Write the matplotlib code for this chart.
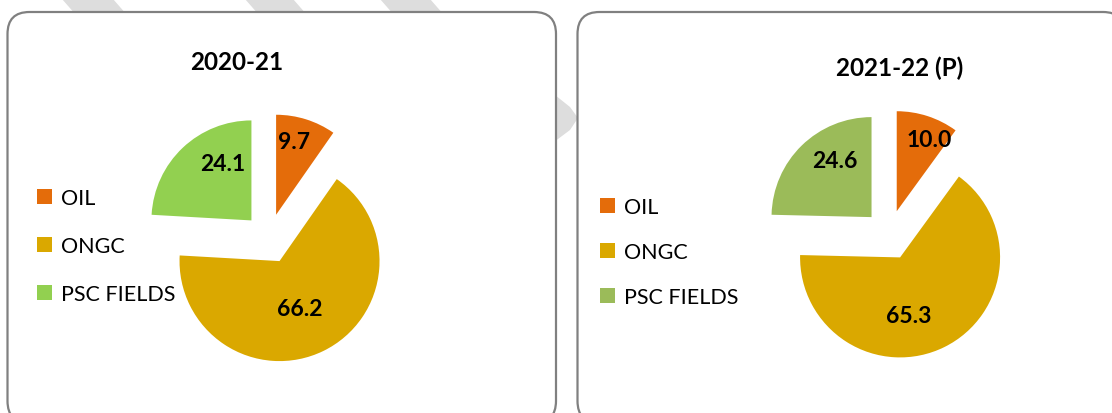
import numpy as np
import matplotlib.pyplot as plt
from matplotlib.patches import FancyBboxPatch, Polygon

categories = ['OIL', 'ONGC', 'PSC FIELDS']
years = ['2020-21', '2021-22 (P)']
share_2021 = [9.7, 66.2, 24.1]
share_2122 = [10.0, 65.3, 24.6]

colors_2021 = ['#E46C0A', '#DAA800', '#92D050']
colors_2122 = ['#E46C0A', '#DAA800', '#9BBB59']

# label placement: (distance from wedge tip in radii, angle in degrees)
lab_2021 = [(0.75, 76), (0.52, -67), (0.64, 117)]
lab_2122 = [(0.79, 66), (0.59, -82), (0.67, 123)]

W, H = 1112, 414
fig = plt.figure(figsize=(W / 100, H / 100), dpi=100)
plt.rcParams['font.family'] = ['Lato', 'DejaVu Sans']

# background layer in pixel units
bg = fig.add_axes([0, 0, 1, 1])
bg.set_xlim(0, W)
bg.set_ylim(0, H)
bg.axis('off')

# faint chevron watermark behind the panels
for x0, x1 in [(62, 113), (245, 293), (380, 430)]:
    bg.add_patch(Polygon([(x0, H), (x1, H), (x1 + 14, H - 16), (x0 + 14, H - 16)],
                         closed=True, fc='#DDDDDD', ec='none', zorder=0))
bg.add_patch(Polygon([(550, H - 92), (570, H - 108), (578, H - 119), (570, H - 131), (550, H - 146)],
                     closed=True, fc='#DDDDDD', ec='none', zorder=0))

# rounded panels
for x0, x1 in [(7.5, 556), (577.5, 1125)]:
    bg.add_patch(FancyBboxPatch((x0, -10), x1 - x0, H - 13 + 10,
                                boxstyle='round,pad=0,rounding_size=22',
                                fc='white', ec='#808080', lw=1.6, zorder=1))


def draw_pie(center, values, colors, labpos, title, title_xy, leg_xy, spacing):
    cx, cy = center
    ax = fig.add_axes([(cx - 150) / W, (cy - 150) / H, 300 / W, 300 / H])
    ax.set_zorder(2)
    ax.patch.set_visible(False)
    wedges, _ = ax.pie(values, colors=colors, startangle=90, counterclock=False,
                       explode=[0.25] * len(values), radius=1,
                       wedgeprops=dict(linewidth=0))
    ax.set_xlim(-1.5, 1.5)
    ax.set_ylim(-1.5, 1.5)
    for w, v, (d, a) in zip(wedges, values, labpos):
        x, y = w.center
        ax.text(x + d * np.cos(np.radians(a)), y + d * np.sin(np.radians(a)), f'{v:.1f}',
                ha='center', va='center', fontsize=16.5, fontweight='bold', color='black')
    fig.text(title_xy[0] / W, title_xy[1] / H, title, ha='center', va='center',
             fontsize=17.5, fontweight='bold', color='black')
    fig.legend(wedges, categories, loc='center left',
               bbox_to_anchor=(leg_xy[0] / W, leg_xy[1] / H), frameon=False,
               fontsize=15.5, handlelength=0.7, handleheight=0.7, handletextpad=0.4,
               labelspacing=spacing, borderpad=0, borderaxespad=0)


draw_pie((268.6, H - 239.6), share_2021, colors_2021, lab_2021, years[0], (237, H - 63), (37, H - 247), 1.3)
draw_pie((889, H - 236), share_2122, colors_2122, lab_2122, years[1], (900, H - 68), (600, H - 253), 1.15)

fig.savefig('out.png', dpi=100)
